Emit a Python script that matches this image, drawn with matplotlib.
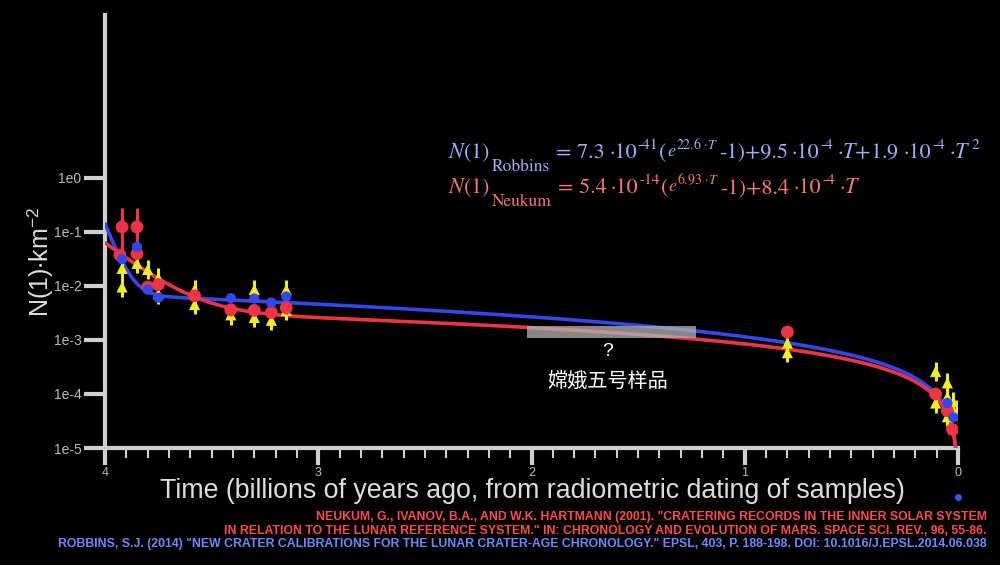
import numpy as np
import matplotlib
matplotlib.use("Agg")
import matplotlib.pyplot as plt
from matplotlib.patches import Rectangle
from matplotlib.lines import Line2D
from matplotlib.ticker import FixedLocator, MultipleLocator

plt.rcParams["mathtext.fontset"] = "stix"

# ---------------- data ----------------
robbins_coef = [7.3e-41, 22.6, 9.5e-4, 1.9e-4]
neukum_coef = [5.4e-14, 6.93, 8.4e-4]

# red (Neukum) calibration points: age [Gyr], N(1), lower, upper
red_T = [3.92, 3.85, 3.93, 3.85, 3.80, 3.75, 3.58, 3.41, 3.30, 3.22, 3.15, 0.80, 0.105, 0.05, 0.026]
red_N = [0.122, 0.122, 0.037, 0.039, 0.0095, 0.0105, 0.0065, 0.0036, 0.0035, 0.0032, 0.0039, 0.0014, 1.0e-4, 4.9e-5, 2.2e-5]
red_lo = [0.040, 0.040, 0.031, 0.033, 0.0080, 0.0090, 0.0055, 0.0028, 0.0029, 0.0027, 0.0030, 0.0011, 0.85e-4, 4.1e-5, 1.8e-5]
red_hi = [0.27, 0.27, 0.044, 0.046, 0.0112, 0.0125, 0.0078, 0.0044, 0.0042, 0.0038, 0.0048, 0.0016, 1.2e-4, 5.8e-5, 2.6e-5]

# blue (Robbins) calibration points
blue_T = [3.92, 3.85, 3.80, 3.75, 3.41, 3.30, 3.22, 3.15, 0.05, 0.022]
blue_N = [0.031, 0.052, 0.0085, 0.0060, 0.0059, 0.0058, 0.0049, 0.0063, 6.8e-5, 3.7e-5]

# yellow triangles (individual estimates)
yel_T = [3.92, 3.92, 3.85, 3.80, 3.75, 3.75, 3.58, 3.58, 3.41, 3.30, 3.30, 3.22, 3.15, 3.15,
         0.80, 0.80, 0.105, 0.105, 0.05, 0.05, 0.05, 0.022, 0.003]
yel_N = [0.021, 0.0095, 0.026, 0.020, 0.014, 0.0071, 0.0085, 0.0045, 0.0029, 0.0085, 0.0026, 0.0023, 0.0085, 0.0035,
         8.7e-4, 5.8e-4, 2.6e-4, 6.8e-5, 1.6e-4, 8.9e-5, 3.8e-5, 7.2e-5, 5.0e-5]
yel_err = [0.18] * len(yel_T)  # half-width (dex)

# Chang'e-5 sample box
ce5_T = [2.02, 1.23]
ce5_N = [1.1e-3, 1.82e-3]

xticks = [4, 3, 2, 1, 0]
yticks = [1e0, 1e-1, 1e-2, 1e-3, 1e-4, 1e-5]
ytick_labels = ["1e0", "1e-1", "1e-2", "1e-3", "1e-4", "1e-5"]

# ---------------- figure ----------------
BG = "black"
AX = "#cfcfcf"
BLUE = "#3346ef"
RED = "#ef3344"
YEL = "#f2ee1e"
W, H = 1000, 565

fig = plt.figure(figsize=(10, 5.65), dpi=100, facecolor=BG)
ax = fig.add_axes([0.105, 0.207, 0.853, 0.766], facecolor=BG)

T = np.linspace(0.0005, 4.0, 2000)
a, b, c, d = robbins_coef
N_rob = a * (np.exp(b * T) - 1) + c * T + d * T ** 2
a2, b2, c2 = neukum_coef
N_neu = a2 * (np.exp(b2 * T) - 1) + c2 * T
ax.plot(T, N_rob, color=BLUE, lw=2.6, zorder=3, solid_capstyle="round")
ax.plot(T, N_neu, color=RED, lw=2.6, zorder=3, solid_capstyle="round")

# yellow points
yN = np.array(yel_N)
ye = 10 ** np.array(yel_err)
ax.errorbar(yel_T, yN, yerr=[yN - yN / ye, yN * ye - yN], fmt="none", ecolor=YEL, elinewidth=2.2, zorder=4)
ax.scatter(yel_T, yel_N, marker="^", s=65, color=YEL, zorder=5, edgecolors="none")

# red points
rN = np.array(red_N)
ax.errorbar(red_T, rN, yerr=[rN - np.array(red_lo), np.array(red_hi) - rN], fmt="none",
            ecolor=RED, elinewidth=2.2, zorder=6)
ax.scatter(red_T, red_N, marker="o", s=85, color=RED, zorder=7, edgecolors="none")

# blue points
ax.scatter(blue_T, blue_N, marker="o", s=55, color=BLUE, zorder=8, edgecolors="none")

# Chang'e-5 box
ax.add_patch(Rectangle((ce5_T[1], ce5_N[0]), ce5_T[0] - ce5_T[1], ce5_N[1] - ce5_N[0],
                       facecolor="#b4b4b4", alpha=0.75, edgecolor="none", zorder=4))
fig.text(608 / W, 1 - 352 / H, "?", color="white", fontsize=14, ha="center", va="center",
         family="Liberation Sans")
fig.text(608 / W, 1 - 381 / H, "嫦娥五号样品", color="white", fontsize=14.5, ha="center", va="center",
         family=["Noto Sans CJK SC", "DejaVu Sans"])

# axes styling
ax.set_yscale("log")
ax.set_xlim(4, 0)
ax.set_ylim(1e-5, 1e3)
for s in ["top", "right"]:
    ax.spines[s].set_visible(False)
for s in ["left", "bottom"]:
    ax.spines[s].set_color(AX)
    ax.spines[s].set_linewidth(3)
ax.yaxis.set_major_locator(FixedLocator(yticks))
ax.yaxis.set_minor_locator(FixedLocator([]))
ax.set_yticklabels(ytick_labels)
ax.xaxis.set_major_locator(FixedLocator(xticks))
ax.xaxis.set_minor_locator(MultipleLocator(0.1))
ax.set_xticklabels([str(v) for v in xticks])
ax.tick_params(axis="y", which="major", direction="out", length=15, width=3, color=AX,
               labelcolor="#bbbbbb", labelsize=10, pad=2)
ax.tick_params(axis="x", which="major", direction="out", length=12, width=3, color=AX,
               labelcolor="#bbbbbb", labelsize=9, pad=2)
ax.tick_params(axis="x", which="minor", direction="out", length=7, width=1.5, color=AX)
for lab in ax.get_xticklabels() + ax.get_yticklabels():
    lab.set_family("Liberation Sans")

fig.text(41 / W, 1 - 262 / H, r"N(1)$\cdot$km$^{\mathregular{-2}}$", color="#dddddd", fontsize=18,
         family="Liberation Sans", rotation=90, ha="center", va="center")
fig.text(532 / W, 1 - 491 / H, "Time (billions of years ago, from radiometric dating of samples)",
         color="#dddddd", fontsize=19.3, family="Liberation Sans", ha="center", va="center")

# equations (laid out piece by piece)
fig.canvas.draw()
renderer = fig.canvas.get_renderer()


def layout(pieces, x0, y0, color):
    x = x0
    for txt, size, dy, gap in pieces:
        x += gap
        t = fig.text(x / W, 1 - (y0 - dy) / H, txt, fontsize=size, color=color,
                     family="STIXGeneral", va="baseline", ha="left")
        x += t.get_window_extent(renderer).width


M, S, P, E, X = 16, 12.5, 11, 13, 10
eq1 = [("$N$(1)", M, 0, 0), ("Robbins", S, -13, 2), ("= 7.3", M, 0, 6), ("·10", M, 0, 4), ("-41", P, 9, 1),
       ("(", M, 0, 1), ("$e$", E, 2, 0), ("22.6 ·$T$", X, 9, 0), ("-1)+9.5", M, 0, 1), ("·10", M, 0, 4),
       ("-4", P, 9, 1), ("·$T$+1.9", M, 0, 4), ("·10", M, 0, 4), ("-4", P, 9, 1), ("·$T$", M, 0, 4),
       ("2", P, 9, 1)]
eq2 = [("$N$(1)", M, 0, 0), ("Neukum", S, -13, 2), ("= 5.4", M, 0, 6), ("·10", M, 0, 4), ("-14", P, 9, 1),
       ("(", M, 0, 1), ("$e$", E, 2, 0), ("6.93 ·$T$", X, 9, 0), ("-1)+8.4", M, 0, 1), ("·10", M, 0, 4),
       ("-4", P, 9, 1), ("·$T$", M, 0, 4)]
layout(eq1, 448, 158, "#a4acff")
layout(eq2, 448, 193, "#ff7474")

# references
refs = [
    ('NEUKUM, G., IVANOV, B.A., AND W.K. HARTMANN (2001). "CRATERING RECORDS IN THE INNER SOLAR SYSTEM', "#ff4a4a"),
    ('IN RELATION TO THE LUNAR REFERENCE SYSTEM." IN: CHRONOLOGY AND EVOLUTION OF MARS. SPACE SCI. REV., 96, 55-86.', "#ff4a4a"),
    ('ROBBINS, S.J. (2014) "NEW CRATER CALIBRATIONS FOR THE LUNAR CRATER-AGE CHRONOLOGY." EPSL, 403, P. 188-198. DOI: 10.1016/J.EPSL.2014.06.038', "#6f88ff"),
]
for i, (txt, col) in enumerate(refs):
    fig.text(0.987, 1 - (517 + 13.5 * i) / H, txt, color=col, fontsize=8.8, weight="bold",
             family="Liberation Sans", ha="right", va="center")

fig.add_artist(Line2D([958 / W], [1 - 497 / H], marker="o", markersize=5, color="#3355ff",
                      markeredgewidth=0, transform=fig.transFigure))

fig.savefig("out.png", dpi=100, facecolor=BG)
